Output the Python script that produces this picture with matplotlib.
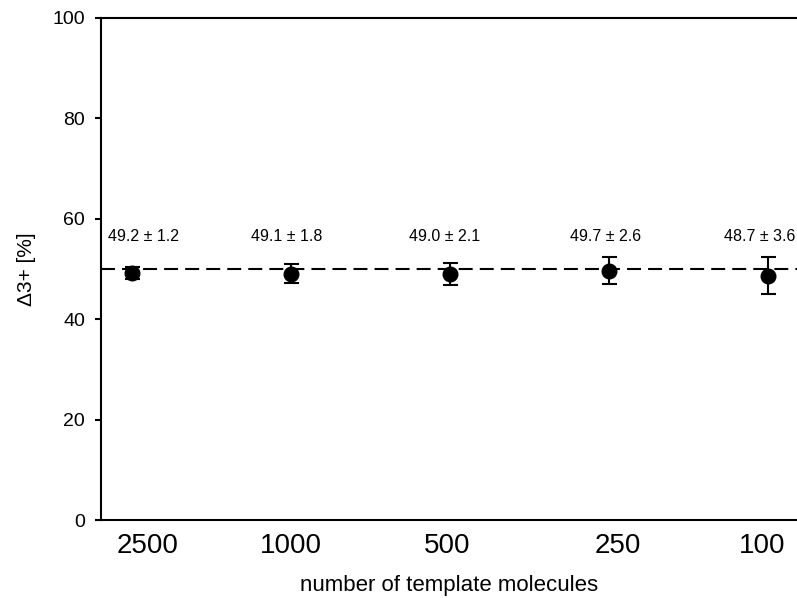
import matplotlib
matplotlib.use('Agg')
from matplotlib import pyplot as plt
from matplotlib.transforms import ScaledTranslation

plt.rcParams['font.family'] = ['Liberation Sans', 'DejaVu Sans']

# data
templates = ['2500', '1000', '500', '250', '100']
means = [49.2, 49.1, 49.0, 49.7, 48.7]
errors = [1.2, 1.8, 2.1, 2.6, 3.6]
expected = 50.0

# small horizontal nudges (points) of the labels as placed in the original
tick_shift = [11.5, 0, -2, 6, -4.5]
note_shift = [8.5, -3, -4, -3, -6.5]

fig = plt.figure(figsize=(7.97, 5.98), dpi=100)
ax = fig.add_axes([0.1267, 0.1304, 0.8733, 0.8395])

x = list(range(len(templates)))

# expected value line
ax.axhline(expected, color='black', lw=1.5, linestyle=(0, (6.7, 3.4)), zorder=1)

ax.errorbar(x, means, yerr=errors, fmt='o', color='black', ms=10.5,
            elinewidth=1.5, capsize=5.4, capthick=1.5, zorder=3)

for xi, m, e, s in zip(x, means, errors, note_shift):
    t = ax.text(xi, 56.4, '%.1f \u00b1 %.1f' % (m, e), ha='center', va='center',
                fontsize=11.5)
    t.set_transform(t.get_transform() + ScaledTranslation(s / 72, 0, fig.dpi_scale_trans))

ax.set_xlim(-0.195, 4.18)
ax.set_ylim(0, 100)
ax.set_yticks(range(0, 101, 20))
ax.set_xticks(x)
ax.set_xticklabels(templates, fontsize=20)
ax.tick_params(axis='x', length=0, pad=9)
ax.tick_params(axis='y', length=4.5, width=1.5, labelsize=14, pad=7, direction='out')

for lab, s in zip(ax.get_xticklabels(), tick_shift):
    lab.set_transform(lab.get_transform() + ScaledTranslation(s / 72, 0, fig.dpi_scale_trans))

for side in ['left', 'bottom', 'top']:
    ax.spines[side].set_linewidth(1.5)
ax.spines['right'].set_visible(False)

ax.set_xlabel('number of template molecules', fontsize=16, labelpad=12)
ax.set_ylabel('\u03943+ [%]', fontsize=15, labelpad=12)

fig.savefig('out.png', dpi=100)
